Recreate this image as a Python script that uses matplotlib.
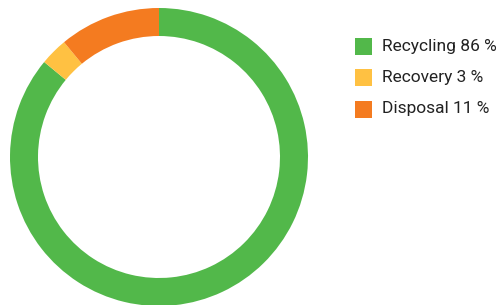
import matplotlib
matplotlib.use("Agg")
import matplotlib.pyplot as plt
from matplotlib.patches import Rectangle

labels = ["Recycling", "Recovery", "Disposal"]
shares = [86, 3, 11]
colors = ["#52b84a", "#ffc142", "#f47b20"]

W, H = 500, 305
fig = plt.figure(figsize=(W / 100, H / 100), dpi=100)
ax = fig.add_axes([0, 0, 1, 1])

# donut, clockwise from 12 o'clock
ax.pie(shares, colors=colors, startangle=90, counterclock=False,
       center=(159, H - 157), radius=149,
       wedgeprops=dict(width=28, linewidth=0))

# legend drawn by hand
for i, (lab, val, col) in enumerate(zip(labels, shares, colors)):
    y = H - (46 + i * 31.5)
    ax.add_patch(Rectangle((355, y - 8.5), 17, 17, color=col, lw=0))
    ax.text(382, y, f"{lab} {val} %", fontsize=12.5, family="Roboto",
            color="#222222", va="center", ha="left")

ax.set_xlim(0, W)
ax.set_ylim(0, H)
ax.set_aspect("equal")
ax.axis("off")
fig.savefig("out.png", dpi=100)
